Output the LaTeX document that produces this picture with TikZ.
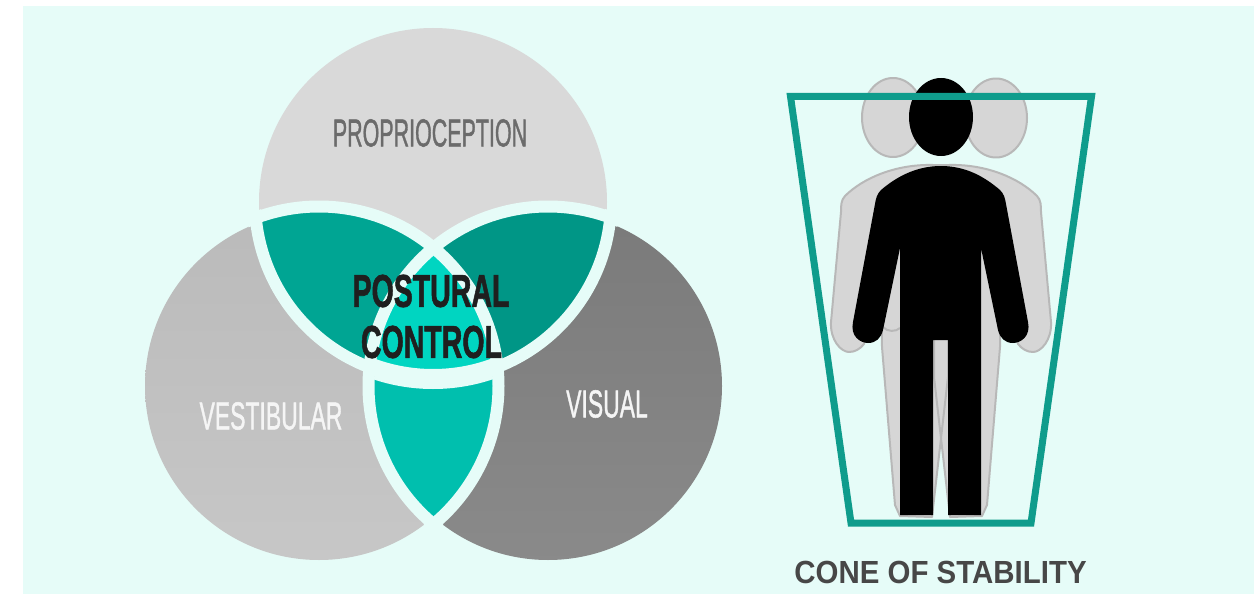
\documentclass[tikz,border=0pt]{standalone}
\usepackage{fontspec}
\setmainfont{Liberation Sans}
\newfontfamily\heavyfont[FakeBold=1.4]{Liberation Sans}
\newfontfamily\blackfont[FakeBold=1.6]{Liberation Sans Bold}
\usepackage{tikz}
\usetikzlibrary{calc,positioning}

\definecolor{bgmint}{HTML}{E6FCF8}
\definecolor{teallens}{HTML}{00A593}
\definecolor{darklens}{HTML}{009686}
\definecolor{lowlens}{HTML}{00BFAE}
\definecolor{midlens}{HTML}{00D5C1}
\definecolor{conegreen}{HTML}{0F9C8C}

\newcommand{\topdisc}{(433,202) circle [radius=174pt]}
\newcommand{\leftdisc}{(319,386) circle [radius=174pt]}
\newcommand{\rightdisc}{(548,386) circle [radius=174pt]}
\newcommand{\ghostpath}{
  (-8,165) .. controls (-45,164) and (-78,178) .. (-96,196)
  .. controls (-100,200) and (-100,206) .. (-100,212)
  -- (-110,322) .. controls (-111,340) and (-100,352) .. (-92,352)
  .. controls (-86,352) and (-81,349) .. (-77,344)
  -- (-60,260) -- (-59,347) -- (-46,505) -- (-41,516) -- (-9,517)
  -- (7,377) -- (7,165) -- cycle}

\begin{document}
\begin{tikzpicture}[
  x=1pt, y=-1pt,
  lbl/.style={font=\heavyfont\fontsize{39}{39}\selectfont, inner sep=0pt, transform shape, xscale=0.55},
  boldlbl/.style={font=\blackfont\fontsize{46}{46}\selectfont, inner sep=0pt, transform shape, xscale=0.62, text=black!88},
  band/.style={draw=bgmint, line width=12pt},
  ghostfill/.style={fill=black!16},
  ghostline/.style={draw=black!28, line width=2pt, line join=round},
  cone/.style={draw=conegreen, line width=7pt, line join=miter}
]
\useasboundingbox (0,0) rectangle (1254,594);
\fill[bgmint] (23,6) rectangle (1254,594);

% three senses
\fill[black!15] \topdisc;
\shade[top color=black!27, bottom color=black!22] \leftdisc;
\shade[top color=black!52, bottom color=black!46] \rightdisc;

% overlaps
\begin{scope}
  \clip \topdisc;
  \fill[teallens] \leftdisc;
\end{scope}
\begin{scope}
  \clip \topdisc;
  \fill[darklens] \rightdisc;
\end{scope}
\begin{scope}
  \clip \leftdisc;
  \fill[lowlens] \rightdisc;
\end{scope}
\begin{scope}
  \clip \topdisc;
  \clip \leftdisc;
  \fill[midlens] \rightdisc;
\end{scope}

% white rings
\begin{scope}
  \clip (319,386) circle [radius=186pt] (548,386) circle [radius=186pt];
  \draw[band] (433,201) circle [radius=178pt];
\end{scope}
\begin{scope}
  \clip \leftdisc;
  \clip \rightdisc;
  \draw[band, line width=20pt] (433,201) circle [radius=178pt];
\end{scope}
\begin{scope}
  \clip (433,202) circle [radius=186pt] (548,386) circle [radius=186pt];
  \draw[band] (319,386) circle [radius=179.5pt];
\end{scope}
\begin{scope}
  \clip (433,202) circle [radius=186pt] (319,386) circle [radius=186pt];
  \draw[band] (548,386) circle [radius=179.5pt];
\end{scope}

\node[lbl, text=black!58] (proprio) at (430,133) {PROPRIOCEPTION};
\node[lbl, text=black!4, xscale=1.07] (vestib) at (271,416) {VESTIBULAR};
\node[lbl, text=black!4, xscale=1.07] (visual) at (607,404) {VISUAL};
\node[boldlbl] (postural) at (431,291) {POSTURAL};
\node[boldlbl] (control) at (431.5,342) {CONTROL};

% swaying figures behind
\foreach \side in {1,-1}
  \fill[ghostfill, xshift=941pt, xscale=\side] \ghostpath;
\foreach \side in {1,-1}
  \draw[ghostline, xshift=941pt, xscale=\side] \ghostpath;
\draw[ghostline] (883,327) .. controls (887,332) and (896,332) .. (900,328);
\filldraw[ghostfill, ghostline] (893,117.5) ellipse [x radius=31pt, y radius=39.5pt];
\filldraw[ghostfill, ghostline] (996,118) ellipse [x radius=31pt, y radius=39.5pt];

% upright figure
\fill[black] (941,117) ellipse [x radius=32pt, y radius=39pt];
\fill[black] (941,166) .. controls (915,166) and (895,178) .. (881,190)
  .. controls (877,194) and (876,198) .. (875,204)
  -- (853,322) .. controls (850,336) and (860,343) .. (868,343)
  .. controls (876,343) and (881,338) .. (883,330)
  -- (900,248) -- (900,515) -- (933,515) -- (933,340) -- (948,340) -- (948,515) -- (981,515) -- (981,248)
  -- (998,330) .. controls (1000,338) and (1005,343) .. (1013,343)
  .. controls (1021,343) and (1031,336) .. (1028,322)
  -- (1006,204) .. controls (1005,198) and (1004,194) .. (1000,190)
  .. controls (986,178) and (967,166) .. (941,166) -- cycle;

% cone outline
\draw[cone] (790.5,96.5) -- (1091.5,96.5) -- (1031,523) -- (851,523) -- cycle;
\node[font=\fontsize{32}{32}\selectfont\bfseries, text=black!72, inner sep=0pt, transform shape, xscale=0.92] (conelabel) at (940.5,572) {CONE OF STABILITY};
\end{tikzpicture}
\end{document}
